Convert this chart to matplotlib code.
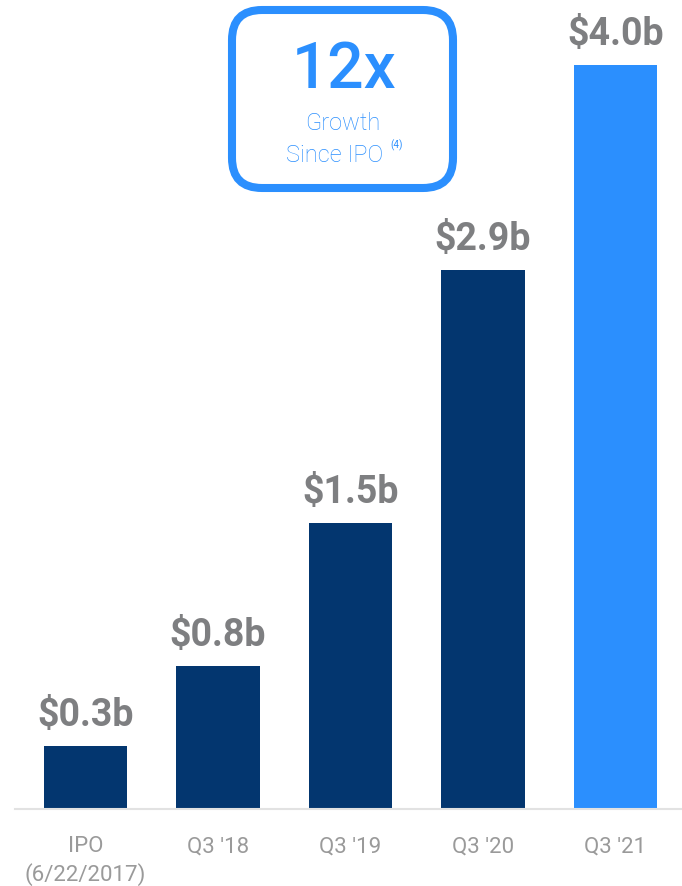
import matplotlib
matplotlib.use("Agg")
import matplotlib.pyplot as plt
from matplotlib.patches import FancyBboxPatch

# ==========================================================
#  데이터
# ==========================================================
categories = ["IPO\n(6/22/2017)", "Q3 '18", "Q3 '19", "Q3 '20", "Q3 '21"]
values = [0.34, 0.77, 1.54, 2.90, 4.00]
value_labels = ["$0.3b", "$0.8b", "$1.5b", "$2.9b", "$4.0b"]
highlight = [False, False, False, False, True]

DARK = "#03366f"
BRIGHT = "#2b8ffe"
LABEL_GREY = "#7e7f81"
TICK_GREY = "#9a9a9a"

plt.rcParams["font.family"] = ["Roboto", "DejaVu Sans"]

fig = plt.figure(figsize=(6.82, 8.87), dpi=100)
ax = fig.add_axes([15 / 682, 77 / 887, 667 / 682, 810 / 887])

x = list(range(len(values)))
colors = [BRIGHT if h else DARK for h in highlight]
ax.bar(x, values, width=0.627, color=colors, zorder=2)

for xi, v, lab in zip(x, values, value_labels):
    ax.annotate(lab, (xi, v), xytext=(0, 15), textcoords="offset points",
                ha="center", va="baseline", fontsize=27, fontweight="bold",
                color=LABEL_GREY)

ax.set_xlim(-0.532, 4.502)
ax.set_ylim(0, 810 / 186)
ax.set_xticks(x)
ax.set_xticklabels(categories, fontsize=16, color=TICK_GREY,
                   fontweight="normal", linespacing=1.3)
ax.tick_params(axis="x", length=0, pad=19)
ax.set_yticks([])
for s in ["top", "right", "left"]:
    ax.spines[s].set_visible(False)
ax.spines["bottom"].set_color("#e2e2e2")
ax.spines["bottom"].set_linewidth(1.5)

# ==========================================================
#  12x 박스
# ==========================================================
box = FancyBboxPatch((2.32, 6.98), 2.21, 1.78,
                     boxstyle="round,pad=0,rounding_size=0.3",
                     transform=fig.dpi_scale_trans, facecolor="white",
                     edgecolor=BRIGHT, linewidth=5.8, zorder=5)
fig.patches.append(box)

fig.text(344 / 682, 1 - 70 / 887, "12x", ha="center", va="center",
         fontsize=46, fontweight="medium", color=BRIGHT, zorder=6)
fig.text(343 / 682, 1 - 124 / 887, "Growth", ha="center", va="center",
         fontsize=17, fontweight="light", color=BRIGHT, zorder=6)
fig.text(335 / 682, 1 - 155 / 887, "Since IPO", ha="center", va="center",
         fontsize=17, fontweight="light", color=BRIGHT, zorder=6)
fig.text(390 / 682, 1 - 145 / 887, "(4)", ha="left", va="center",
         fontsize=7, color=BRIGHT, zorder=6)

fig.savefig("out.png", dpi=100)
